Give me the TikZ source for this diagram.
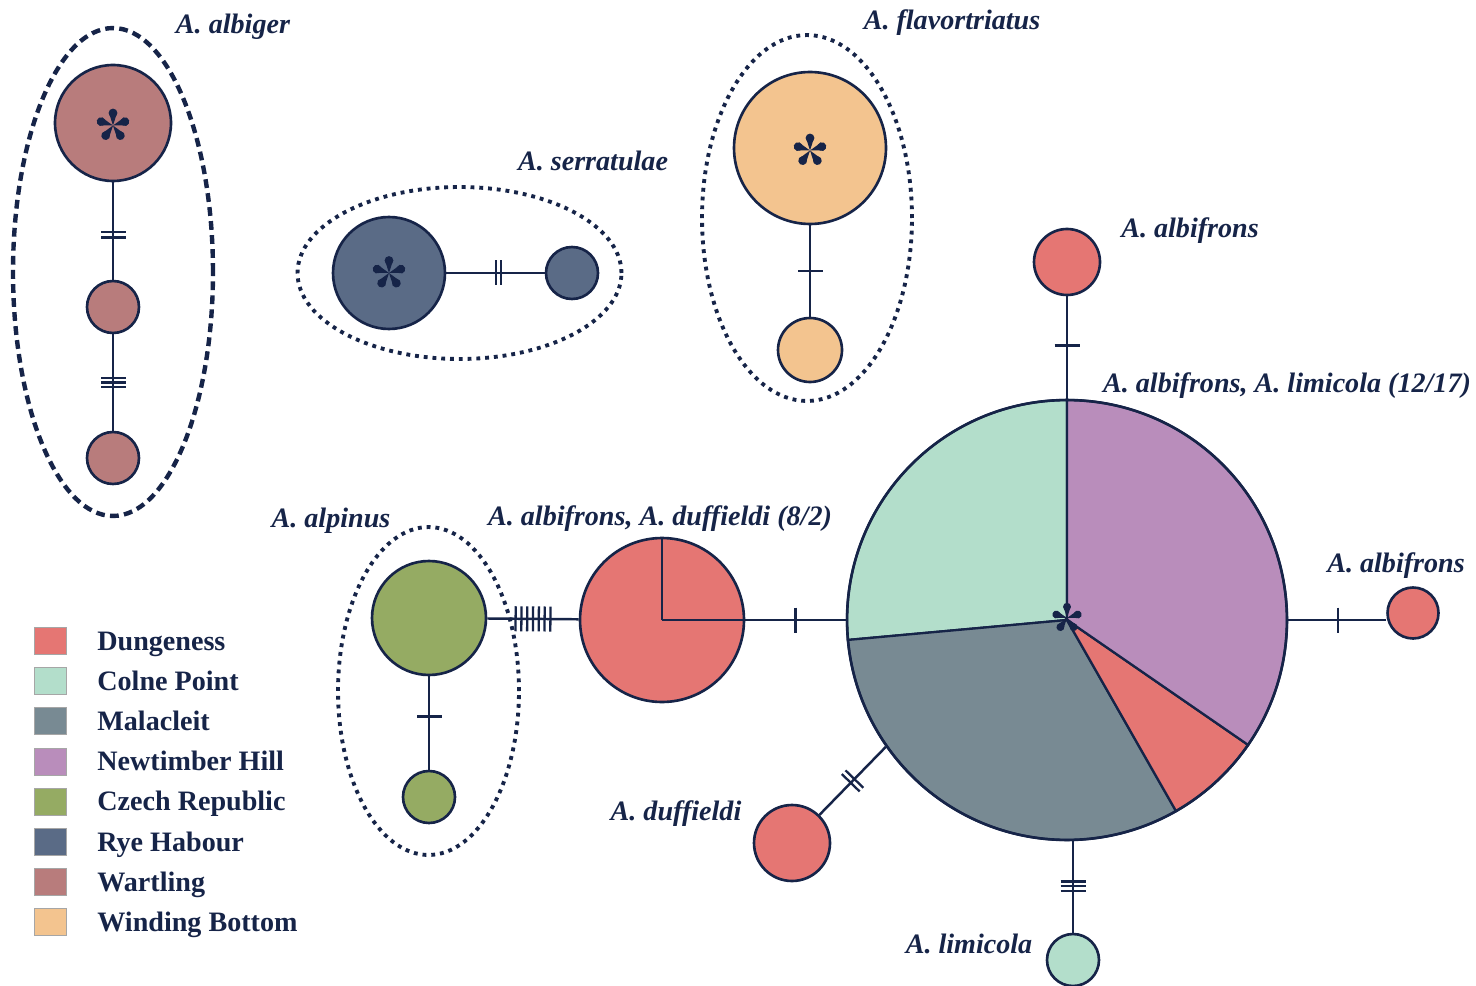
\documentclass[tikz,border=0pt]{standalone}
\usepackage{fontspec}
\setmainfont{Liberation Serif}
\usetikzlibrary{decorations.markings}
\definecolor{navy}{RGB}{22,36,72}
\definecolor{cDun}{RGB}{229,118,115}
\definecolor{cCol}{RGB}{179,222,203}
\definecolor{cMal}{RGB}{120,138,147}
\definecolor{cNew}{RGB}{185,141,187}
\definecolor{cCze}{RGB}{149,171,99}
\definecolor{cRye}{RGB}{90,107,134}
\definecolor{cWar}{RGB}{184,124,124}
\definecolor{cWin}{RGB}{243,196,143}
\tikzset{
 hap/.style={circle, draw=navy, line width=1.5pt, inner sep=0pt},
 link/.style={draw=navy, line width=1.4pt},
 tk/.style={draw=navy, line width=1.3pt},
 tone/.style={postaction={decorate, decoration={markings, mark=at position #1 with {\draw[tk] (0,-12.5)--(0,12.5);}}}},
 ttwo/.style={postaction={decorate, decoration={markings, mark=at position #1 with {\draw[tk] (-2.6,-12.5)--(-2.6,12.5) (2.6,-12.5)--(2.6,12.5);}}}},
 tthree/.style={postaction={decorate, decoration={markings, mark=at position #1 with {\draw[tk] (-4.6,-12.5)--(-4.6,12.5) (0,-12.5)--(0,12.5) (4.6,-12.5)--(4.6,12.5);}}}},
 tseven/.style={postaction={decorate, decoration={markings, mark=at position #1 with {\foreach \i in {-3,...,3} {\draw[tk] ({5.8*\i},-12.5)--({5.8*\i},12.5);}}}}},
 grp/.style={draw=navy, line width=2.2pt, dash pattern=on 2.2pt off 2.8pt},
 grpdash/.style={draw=navy, line width=2.5pt, dash pattern=on 5pt off 3pt},
 lab/.style={text=navy, font=\fontsize{16}{19}\selectfont\bfseries\itshape, inner sep=0pt, anchor=base},
 leg/.style={text=navy, font=\fontsize{16}{19}\selectfont\bfseries, inner sep=0pt, anchor=base west},
 legbox/.style={draw=black!35, line width=0.5pt, minimum width=0.64cm, minimum height=0.54cm, inner sep=0pt},
 ast/.pic={\foreach \a in {18,90,162,234,306} {\fill[navy, rotate=\a] (0,0) -- (12.5,-4) -- (12.5,4) -- cycle; \fill[navy, rotate=\a] (12.5,0) circle[radius=4.4];}},
}
\begin{document}
\begin{tikzpicture}[x=0.02cm, y=-0.02cm]
\useasboundingbox (0,0) rectangle (1476,986);
\fill[white] (0,0) rectangle (1476,986);

% group outlines
\draw[grpdash] (113,272) ellipse [x radius=2.0cm, y radius=4.88cm];
\draw[grp] (459.5,273) ellipse [x radius=3.24cm, y radius=1.72cm];
\draw[grp] (807,218) ellipse [x radius=2.1cm, y radius=3.66cm];
\draw[grp] (428.5,691) ellipse [x radius=1.81cm, y radius=3.28cm];

% big pie slices
\coordinate (pc) at (1067,620);
\begin{scope}[shift={(pc)}, x=0.02cm, y=0.02cm]
\filldraw[fill=cCol, draw=navy, line width=1.3pt] (0,0) -- (90:220) arc[start angle=90, end angle=185.2, radius=220] -- cycle;
\filldraw[fill=cMal, draw=navy, line width=1.3pt] (0,0) -- (185.2:220) arc[start angle=185.2, end angle=299.7, radius=220] -- cycle;
\filldraw[fill=cDun, draw=navy, line width=1.3pt] (0,0) -- (299.7:220) arc[start angle=299.7, end angle=325.4, radius=220] -- cycle;
\filldraw[fill=cNew, draw=navy, line width=1.3pt] (0,0) -- (325.4:220) arc[start angle=325.4, end angle=450, radius=220] -- cycle;
\end{scope}

% haplotype nodes
\node[hap, fill=cWar, minimum size=2.32cm] (alb1) at (113,123) {};
\node[hap, fill=cWar, minimum size=1.04cm] (alb2) at (113,307) {};
\node[hap, fill=cWar, minimum size=1.04cm] (alb3) at (113,458) {};
\node[hap, fill=cRye, minimum size=2.24cm] (ser1) at (389,273) {};
\node[hap, fill=cRye, minimum size=1.04cm] (ser2) at (572,273) {};
\node[hap, fill=cWin, minimum size=3.04cm] (fla1) at (810,148) {};
\node[hap, fill=cWin, minimum size=1.28cm] (fla2) at (810,350) {};
\node[hap, fill=cCze, minimum size=2.28cm] (alp1) at (429,618) {};
\node[hap, fill=cCze, minimum size=1.04cm] (alp2) at (429,797) {};
\node[hap, fill=cDun, minimum size=3.28cm] (pie2) at (662,620) {};
\node[hap, minimum size=8.8cm] (pie) at (pc) {};
\node[hap, fill=cDun, minimum size=1.32cm] (top) at (1067,262) {};
\node[hap, fill=cDun, minimum size=1.02cm] (rgt) at (1413,613) {};
\node[hap, fill=cDun, minimum size=1.52cm] (duf) at (792,843) {};
\node[hap, fill=cCol, minimum size=1.04cm] (lim) at (1073,960) {};

% pie2 dividers
\draw[link, line width=1.5pt] (pie2.center) -- (pie2.north) (pie2.center) -- (pie2.east);

% asterisks
\pic at ([yshift=-0.05cm]alb1.center) {ast};
\pic at (ser1.center) {ast};
\pic at ([yshift=-0.05cm]fla1.center) {ast};
\pic[scale=0.9] at ([yshift=0.04cm]pc) {ast};

% connectors
\draw[link, ttwo=0.54] (alb1) -- (alb2);
\draw[link, tthree=0.5] (alb2) -- (alb3);
\draw[link, ttwo=0.53] (ser1) -- (ser2);
\draw[link, tone=0.5] (fla1) -- (fla2);
\draw[link, tone=0.43] (alp1) -- (alp2);
\draw[link, tseven=0.5] (alp1) -- (pie2);
\draw[link, tone=0.5] (pie2) -- (pie);
\draw[link, tone=0.52] (pie) -- (top);
\draw[link, tone=0.51] (pie.east) -- (pie.east -| rgt.west);
\draw[link, ttwo=0.5] (duf) -- (pie.215.6);
\draw[link, tthree=0.51] (lim) -- (lim |- pie.south);

% labels
\node[lab] (lAlbiger) at (233,34) {A. albiger};
\node[lab] (lSerr) at (593,171) {A. serratulae};
\node[lab] (lFlav) at (952,30) {A. flavortriatus};
\node[lab] (lAlbTop) at (1190,238) {A. albifrons};
\node[lab] (lMain) at (1287,392) {A. albifrons, A. limicola (12/17)};
\node[lab] (lAlbR) at (1396,572) {A. albifrons};
\node[lab] (lAlp) at (331,527) {A. alpinus};
\node[lab] (lPie2) at (660,525) {A. albifrons, A. duffieldi (8/2)};
\node[lab] (lDuf) at (676,820) {A. duffieldi};
\node[lab] (lLim) at (969,953) {A. limicola};

% legend
\node[legbox, fill=cDun] (k1) at (50,641) {};
\node[legbox, fill=cCol] (k2) at (50,681.2) {};
\node[legbox, fill=cMal] (k3) at (50,721.4) {};
\node[legbox, fill=cNew] (k4) at (50,761.6) {};
\node[legbox, fill=cCze] (k5) at (50,801.8) {};
\node[legbox, fill=cRye] (k6) at (50,842) {};
\node[legbox, fill=cWar] (k7) at (50,882.2) {};
\node[legbox, fill=cWin] (k8) at (50,922.4) {};
\node[leg] (t1) at (97,650) {Dungeness};
\node[leg] (t2) at (97,690.2) {Colne Point};
\node[leg] (t3) at (97,730.4) {Malacleit};
\node[leg] (t4) at (97,770.6) {Newtimber Hill};
\node[leg] (t5) at (97,810.8) {Czech Republic};
\node[leg] (t6) at (97,851) {Rye Habour};
\node[leg] (t7) at (97,891.2) {Wartling};
\node[leg] (t8) at (97,931.4) {Winding Bottom};
\end{tikzpicture}
\end{document}
